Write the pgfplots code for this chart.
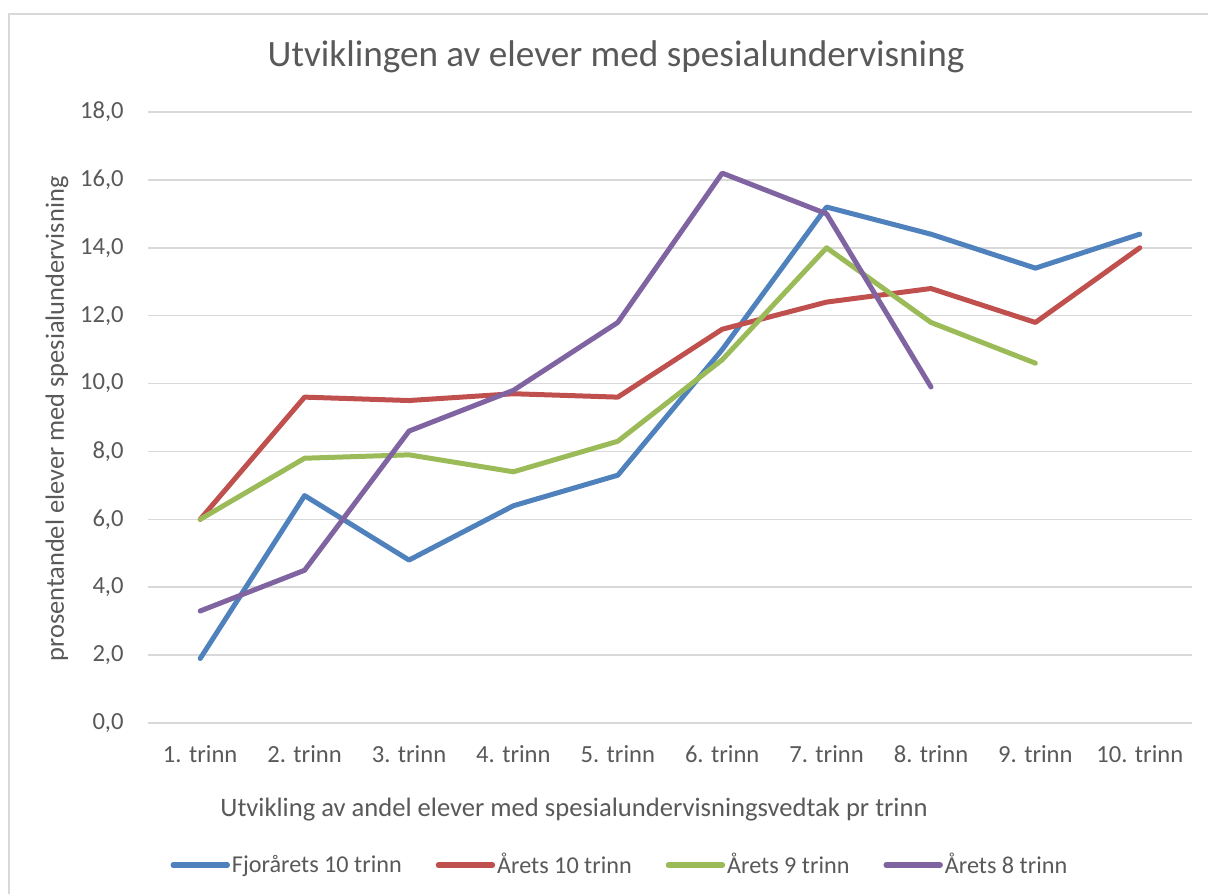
\documentclass[border=0pt]{standalone}
\usepackage{fontspec}
\setmainfont{Carlito}
\usepackage{pgfplots}
\pgfplotsset{compat=1.18}
\definecolor{XBlue}{HTML}{4F81BD}
\definecolor{XRed}{HTML}{C0504D}
\definecolor{XGreen}{HTML}{9BBB59}
\definecolor{XPurple}{HTML}{8064A2}
\definecolor{XGrid}{HTML}{D9D9D9}
\definecolor{XText}{HTML}{595959}

\begin{document}
\begin{tikzpicture}[font=\fontsize{12.3}{14}\selectfont, text=XText]
\begin{axis}[
  scale only axis,
  width=522pt, height=305.5pt,
  xmin=0.5, xmax=10.5,
  ymin=0, ymax=18,
  xtick={1,...,10},
  xticklabels={1. trinn,2. trinn,3. trinn,4. trinn,5. trinn,6. trinn,7. trinn,8. trinn,9. trinn,10. trinn},
  ytick={0,2,...,18},
  ymajorgrids, grid style={XGrid, line width=0.75pt},
  axis line style={draw=none},
  major tick length=0pt,
  /pgf/number format/assume math mode=true,
  yticklabel={\pgfmathprintnumber[fixed,fixed zerofill,precision=1,use comma]{\tick}},
  yticklabel style={anchor=east, inner sep=0pt, xshift=-12pt, text=XText},
  xticklabel style={anchor=base, inner sep=0pt, yshift=-19.5pt, text=XText},
  every axis plot/.append style={line width=2.5pt, line cap=round, line join=round},
  legend columns=4,
  legend style={draw=none, fill=none, at={(0.452,-0.2324)}, anchor=center,
    font=\fontsize{12.1}{14}\selectfont, text=XText,
    nodes={inner xsep=1pt, inner ysep=0pt},
    /tikz/every even column/.append style={column sep=16pt}},
  legend image code/.code={\draw[#1, line width=2.7pt, line cap=round] (0pt,0pt) -- (27pt,0pt);},
]
\addplot[XBlue] coordinates {(1,1.9)(2,6.7)(3,4.8)(4,6.4)(5,7.3)(6,11.0)(7,15.2)(8,14.4)(9,13.4)(10,14.4)};
\addlegendentry{Fjorårets 10 trinn}
\addplot[XRed] coordinates {(1,6.0)(2,9.6)(3,9.5)(4,9.7)(5,9.6)(6,11.6)(7,12.4)(8,12.8)(9,11.8)(10,14.0)};
\addlegendentry{Årets 10 trinn}
\addplot[XGreen] coordinates {(1,6.0)(2,7.8)(3,7.9)(4,7.4)(5,8.3)(6,10.7)(7,14.0)(8,11.8)(9,10.6)};
\addlegendentry{Årets 9 trinn}
\addplot[XPurple] coordinates {(1,3.3)(2,4.5)(3,8.6)(4,9.8)(5,11.8)(6,16.2)(7,15.0)(8,9.9)};
\addlegendentry{Årets 8 trinn}
\coordinate (O) at (rel axis cs:0,0);
\end{axis}
\node[anchor=base, font=\fontsize{18.6}{22}\selectfont] at ([shift={(234pt,328pt)}]O) {Utviklingen av elever med spesialundervisning};
\node[anchor=base, font=\fontsize{13.3}{16}\selectfont] at ([shift={(213pt,-46.5pt)}]O) {Utvikling av andel elever med spesialundervisningsvedtak pr trinn};
\node[anchor=base, rotate=90, font=\fontsize{13.2}{16}\selectfont] at ([shift={(-42pt,152pt)}]O) {prosentandel elever med spesialundervisning};
\draw[XGrid, line width=0.75pt] ([shift={(530pt,354.5pt)}]O) -- ([shift={(-69.5pt,354.5pt)}]O) -- ([shift={(-69.5pt,-85.5pt)}]O);
\pgfresetboundingbox
\path[use as bounding box] ([shift={(-74pt,-85.5pt)}]O) rectangle ([shift={(530pt,361.5pt)}]O);
\end{tikzpicture}
\end{document}
